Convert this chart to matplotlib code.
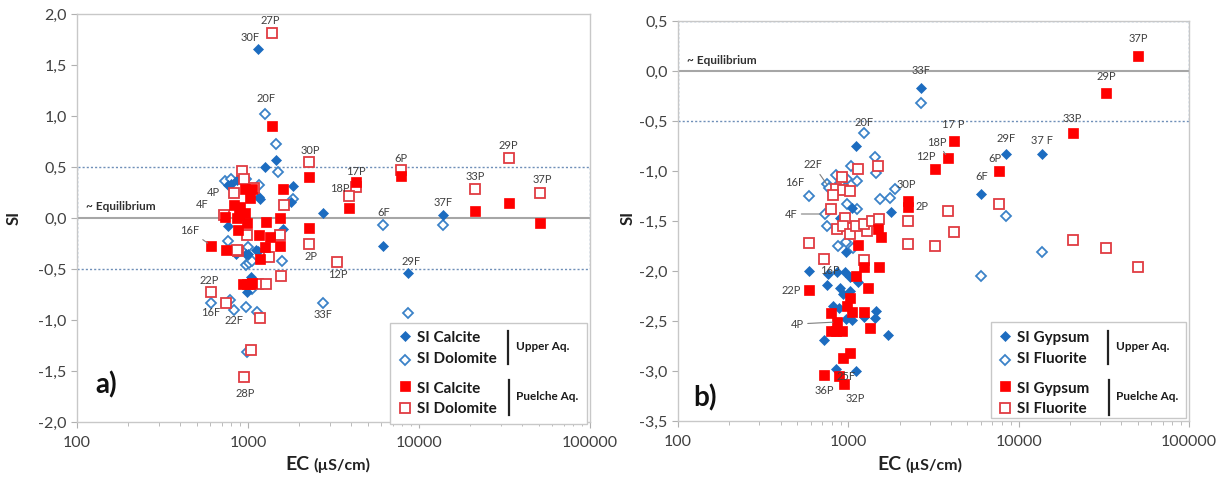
import matplotlib
matplotlib.use("Agg")
import matplotlib.pyplot as plt
from matplotlib.patches import Rectangle
from matplotlib.lines import Line2D
from matplotlib.ticker import FuncFormatter, LogLocator, NullFormatter, FixedLocator

plt.rcParams['font.family'] = ['Lato', 'DejaVu Sans']

# ---------------- data: panel a (Calcite / Dolomite) ----------------
a_up_cal_ec = [1143, 1450, 1257, 2734, 6185, 8655, 13870, 796, 764, 860, 1175, 1833, 1780,
               764, 1143, 1600, 973, 851, 1045, 985, 1000, 1114, 1160]
a_up_cal_si = [1.66, 0.57, 0.50, 0.05, -0.27, -0.54, 0.03, 0.33, 0.32, 0.37, 0.19, 0.31, 0.16,
               -0.08, -0.32, -0.11, -0.35, -0.35, -0.58, -0.73, -0.35, -0.31, 0.21]

a_up_dol_ec = [1252, 1452, 1504, 6185, 8655, 13870, 2734, 733, 796, 973, 1160, 1833, 764, 1000,
               1574, 980, 1020, 1060, 1055, 605, 790, 832, 973, 1133, 991]
a_up_dol_si = [1.02, 0.73, 0.45, -0.07, -0.93, -0.07, -0.83, 0.36, 0.38, 0.38, 0.32, 0.19, -0.23,
               -0.28, -0.42, -0.46, -0.44, -0.42, -0.70, -0.83, -0.80, -0.90, -0.87, -0.92, -1.31]

a_pu_cal_ec = [1387, 2282, 4266, 3911, 7850, 21250, 33450, 51000, 608, 744, 1175, 1260, 1538,
               1340, 1160, 2274, 960, 1050, 1028, 828, 898, 960, 733, 865, 990, 874, 1274, 1538,
               1603, 940, 985, 1030, 1060, 880]
a_pu_cal_si = [0.90, 0.40, 0.35, 0.10, 0.41, 0.07, 0.15, -0.05, -0.27, -0.31, -0.40, -0.28, -0.27,
               -0.19, -0.17, -0.10, 0.28, 0.28, 0.20, 0.13, 0.11, 0.05, 0.01, 0.00, -0.05, -0.12,
               -0.04, 0.00, 0.28, -0.65, -0.65, -0.65, -0.64, 0.03]

a_pu_dol_ec = [1380, 2282, 4266, 3911, 7850, 21250, 33450, 51000, 2282, 3327, 920, 950, 828, 1084,
               720, 1620, 990, 1538, 874, 1327, 865, 1143, 1274, 1560, 608, 744, 1175, 1038, 948]
a_pu_dol_si = [1.81, 0.55, 0.30, 0.22, 0.47, 0.28, 0.59, 0.25, -0.25, -0.43, 0.46, 0.38, 0.25, 0.29,
               0.03, 0.13, -0.17, -0.17, -0.32, -0.38, -0.31, -0.65, -0.65, -0.57, -0.73, -0.83,
               -0.98, -1.29, -1.56]

# ---------------- data: panel b (Gypsum / Fluorite) ----------------
b_up_gyp_ec = [2688, 8390, 13640, 6040, 1102, 891, 1055, 966, 1790, 589, 760, 858, 954, 1020, 1141,
               750, 891, 931, 1020, 816, 881, 966, 1045, 1233, 1430, 1462, 1713, 718, 845, 1115]
b_up_gyp_si = [-0.17, -0.83, -0.83, -1.23, -0.75, -1.47, -1.37, -1.81, -1.41, -2.00, -2.03, -2.01,
               -2.01, -2.06, -2.11, -2.14, -2.17, -2.23, -2.20, -2.35, -2.37, -2.48, -2.49, -2.46,
               -2.47, -2.40, -2.64, -2.69, -2.98, -3.00]

b_up_flu_ec = [2688, 8390, 13640, 6040, 1233, 1430, 1462, 1034, 1127, 845, 745, 774, 891, 977, 587,
               1530, 728, 977, 1127, 750, 871, 966, 1068, 1873, 1751]
b_up_flu_si = [-0.32, -1.45, -1.81, -2.05, -0.62, -0.86, -1.02, -0.95, -1.10, -1.04, -1.13, -1.17,
               -1.12, -1.08, -1.25, -1.28, -1.43, -1.33, -1.38, -1.55, -1.75, -1.71, -1.77, -1.18,
               -1.27]

b_pu_gyp_ec = [50100, 32500, 20740, 4176, 3848, 3229, 7670, 2243, 2243, 1496, 1565, 1141, 1240, 1510,
               1115, 1300, 589, 1020, 985, 1045, 787, 1240, 858, 790, 850, 920, 1336, 1020, 931, 718,
               881, 943]
b_pu_gyp_si = [0.15, -0.22, -0.62, -0.70, -0.87, -0.98, -1.00, -1.30, -1.36, -1.58, -1.66, -1.74,
               -1.96, -1.96, -2.05, -2.17, -2.19, -2.27, -2.35, -2.41, -2.42, -2.41, -2.51, -2.60,
               -2.60, -2.60, -2.57, -2.82, -2.87, -3.04, -3.05, -3.13]

b_pu_flu_ec = [50100, 32500, 20740, 4176, 3848, 3229, 7670, 2243, 2243, 1496, 1141, 922, 852, 931,
               1020, 816, 794, 954, 858, 931, 1020, 1115, 1293, 1233, 1370, 1515, 589, 718, 1240]
b_pu_flu_si = [-1.96, -1.77, -1.69, -1.61, -1.40, -1.75, -1.33, -1.50, -1.73, -0.95, -0.98, -1.06,
               -1.18, -1.19, -1.20, -1.24, -1.38, -1.47, -1.58, -1.55, -1.63, -1.55, -1.60, -1.53,
               -1.50, -1.48, -1.72, -1.88, -1.89]

x_ticks = [100, 1000, 10000, 100000]
a_y_ticks = [2.0, 1.5, 1.0, 0.5, 0.0, -0.5, -1.0, -1.5, -2.0]
b_y_ticks = [0.5, 0.0, -0.5, -1.0, -1.5, -2.0, -2.5, -3.0, -3.5]

# sample labels: (text, ec, si, dx_px, dy_px, leader)
a_labels = [
    ("27P", 1380, 1.81, -2, 13, False), ("30F", 1143, 1.66, -8, 11, False),
    ("20F", 1252, 1.02, 1, 15, False), ("30P", 2282, 0.55, 1, 11, False),
    ("17P", 4266, 0.35, 0, 11, False), ("18P", 3911, 0.22, -9, 7, False),
    ("6P", 7850, 0.47, 0, 12, False), ("29P", 33450, 0.59, 0, 12, False),
    ("33P", 21250, 0.28, 0, 13, False), ("37P", 51000, 0.25, 2, 13, False),
    ("37F", 13870, 0.03, 0, 12, False), ("6F", 6185, -0.07, 0, 13, False),
    ("29F", 8655, -0.54, 3, 12, False), ("33F", 2734, -0.83, 0, -12, False),
    ("2P", 2282, -0.25, 2, -13, False), ("12P", 3327, -0.43, 1, -13, False),
    ("22P", 608, -0.73, -2, 12, False), ("16F", 605, -0.83, 0, -10, False),
    ("22F", 832, -0.90, 0, -11, False), ("28P", 948, -1.56, 1, -16, False),
    ("4P", 828, 0.25, -21, 0, False), ("4F", 720, 0.03, -21, 10, False),
    ("16F", 608, -0.27, -21, 15, True),
]
b_labels = [
    ("33F", 2688, -0.17, 0, 17, False), ("37P", 50100, 0.15, 0, 17, False),
    ("29P", 32500, -0.22, 0, 17, False), ("33P", 20740, -0.62, 0, 15, False),
    ("17 P", 4176, -0.70, -1, 17, False), ("18P", 3848, -0.87, -11, 16, True),
    ("12P", 3229, -0.98, -9, 12, False), ("29F", 8390, -0.83, 0, 16, False),
    ("37 F", 13640, -0.83, 0, 13, False), ("6P", 7670, -1.00, -4, 12, False),
    ("6F", 6040, -1.23, 0, 17, False), ("30P", 2243, -1.30, -2, 16, False),
    ("2P", 2243, -1.36, 14, 1, False), ("20F", 1233, -0.62, 0, 11, False),
    ("22F", 774, -1.17, -16, 23, True), ("16F", 587, -1.25, -14, 13, False),
    ("4F", 728, -1.43, -34, 0, True), ("22P", 589, -2.19, -18, 0, False),
    ("4P", 858, -2.51, -40, -2, True), ("36P", 718, -3.04, 1, -16, False),
    ("32P", 943, -3.13, 11, -14, False),
]
b_free_labels = [("16P", 779, -2.00), ("25F", 967, -3.05)]

# ---------------- styles ----------------
BLUE = '#1c6cc0'
BLUE_O = '#3b82c8'
RED = '#ff0000'
RED_O = '#e03c42'
GRAY = '#404040'
BOX = '#6f8fb8'

st_fd = dict(marker='D', ms=5.0, mfc=BLUE, mec=BLUE, mew=0.5, ls='none')
st_od = dict(marker='D', ms=4.6, mfc='white', mec=BLUE_O, mew=1.3, ls='none')
st_fs = dict(marker='s', ms=7.0, mfc=RED, mec=RED, mew=0.5, ls='none')
st_os = dict(marker='s', ms=6.6, mfc='white', mec=RED_O, mew=1.3, ls='none')

W, H = 1227, 478
fig = plt.figure(figsize=(W / 100, H / 100), dpi=100)


def fx(px):
    return px / W


def fy(py):
    return 1 - py / H


axA = fig.add_axes([fx(77), fy(422), fx(590) - fx(77), fy(14) - fy(422)])
axB = fig.add_axes([fx(678), fy(421), fx(1189) - fx(678), fy(21) - fy(421)])

fmt_y = FuncFormatter(lambda v, p: ("%.1f" % v).replace('.', ',').replace('-0,0', '0,0'))


def setup(ax, yticks):
    ax.set_xscale('log')
    ax.set_xlim(100, 100000)
    ax.set_ylim(min(yticks), max(yticks))
    ax.xaxis.set_major_locator(FixedLocator(x_ticks))
    ax.xaxis.set_major_formatter(FuncFormatter(lambda v, p: "%d" % v))
    ax.xaxis.set_minor_locator(LogLocator(base=10, subs=range(2, 10)))
    ax.xaxis.set_minor_formatter(NullFormatter())
    ax.yaxis.set_major_locator(FixedLocator(yticks))
    ax.yaxis.set_major_formatter(fmt_y)
    for s in ax.spines.values():
        s.set_color('#c8c8c8')
        s.set_linewidth(1.0)
    ax.tick_params(axis='both', which='both', color='#b0b0b0', labelcolor=GRAY,
                   labelsize=11.5, direction='out')
    ax.tick_params(axis='both', which='major', length=4)
    ax.tick_params(axis='x', which='minor', length=3)
    ax.tick_params(axis='x', pad=6)
    # equilibrium band and line
    ax.add_patch(Rectangle((100, -0.5), 100000 - 100, 1.0, fill=False, ec=BOX,
                           lw=1.0, ls=(0, (1.5, 1.5)), zorder=1))
    ax.axhline(0, color='#a6a6a6', lw=1.5, zorder=1)
    ax.text(113, 0.11, "~ Equilibrium", fontsize=8.5, fontweight='bold', color='#303030',
            ha='left', va='center')


def annotate(ax, labels):
    for txt, ec, si, dx, dy, leader in labels:
        kw = dict(xy=(ec, si), xytext=(dx, dy), textcoords='offset pixels',
                  ha='center', va='center', fontsize=8, color=GRAY, zorder=6)
        if leader:
            kw['arrowprops'] = dict(arrowstyle='-', color='#7f7f7f', lw=0.8,
                                    shrinkA=1, shrinkB=3)
        ax.annotate(txt, **kw)


setup(axA, a_y_ticks)
setup(axB, b_y_ticks)

axA.plot(a_up_dol_ec, a_up_dol_si, zorder=3, **st_od)
axA.plot(a_up_cal_ec, a_up_cal_si, zorder=3, **st_fd)
axA.plot(a_pu_dol_ec, a_pu_dol_si, zorder=4, **st_os)
axA.plot(a_pu_cal_ec, a_pu_cal_si, zorder=4, **st_fs)

axB.plot(b_up_flu_ec, b_up_flu_si, zorder=3, **st_od)
axB.plot(b_up_gyp_ec, b_up_gyp_si, zorder=3, **st_fd)
axB.plot(b_pu_flu_ec, b_pu_flu_si, zorder=4, **st_os)
axB.plot(b_pu_gyp_ec, b_pu_gyp_si, zorder=4, **st_fs)

annotate(axA, a_labels)
annotate(axB, b_labels)
for txt, ec, si in b_free_labels:
    axB.text(ec, si, txt, fontsize=8, color=GRAY, ha='center', va='center', zorder=6)

# panel tags
axA.text(0.035, 0.09, "a)", transform=axA.transAxes, fontsize=20, fontweight='bold',
         ha='left', va='center', color='#111111')
axB.text(0.03, 0.058, "b)", transform=axB.transAxes, fontsize=20, fontweight='bold',
         ha='left', va='center', color='#111111')

# axis titles
for x_ec, x_rest in [(285, 313), (877, 905)]:
    fig.text(fx(x_ec), fy(464), "EC", fontsize=14, fontweight='bold', color='#222222',
             ha='left', va='center')
    fig.text(fx(x_rest), fy(465), "(µS/cm)", fontsize=11.5, fontweight='bold', color='#222222',
             ha='left', va='center')
for xs in [14, 628]:
    fig.text(fx(xs), fy(218), "SI", fontsize=12, fontweight='bold', color='#222222',
             rotation=90, ha='center', va='center')


# legends
def legend(x0, y0, x1, y1, dx, names):
    fig.add_artist(Rectangle((fx(x0), fy(y1)), fx(x1) - fx(x0), fy(y0) - fy(y1),
                             transform=fig.transFigure, facecolor='white',
                             edgecolor='#c8c8c8', lw=1.0, zorder=5))
    rows = [(336, 338, st_fd, names[0]), (360, 359, st_od, names[1]),
            (386, 389, st_fs, names[0]), (408, 409, st_os, names[1])]
    for my, ty, st, name in rows:
        fig.add_artist(Line2D([fx(405 + dx)], [fy(my)], transform=fig.transFigure,
                              zorder=6, **st))
        fig.text(fx(417 + dx), fy(ty), name, fontsize=11, fontweight='bold',
                 color='#1a1a1a', ha='left', va='center', zorder=6)
    for bx, by0, by1 in [(507.5, 331, 364), (508.5, 380, 415)]:
        fig.add_artist(Line2D([fx(bx + dx)] * 2, [fy(by0), fy(by1)], transform=fig.transFigure,
                              color='#222222', lw=1.6, zorder=6))
    fig.text(fx(516 + dx), fy(347), "Upper Aq.", fontsize=8.5, fontweight='bold',
             color='#1a1a1a', ha='left', va='center', zorder=6)
    fig.text(fx(516 + dx), fy(397), "Puelche Aq.", fontsize=8.5, fontweight='bold',
             color='#1a1a1a', ha='left', va='center', zorder=6)


legend(390, 323, 587, 424, 0, ["SI Calcite", "SI Dolomite"])
legend(991, 322, 1186, 418, 600, ["SI Gypsum", "SI Fluorite"])

fig.savefig("out.png", dpi=100)
